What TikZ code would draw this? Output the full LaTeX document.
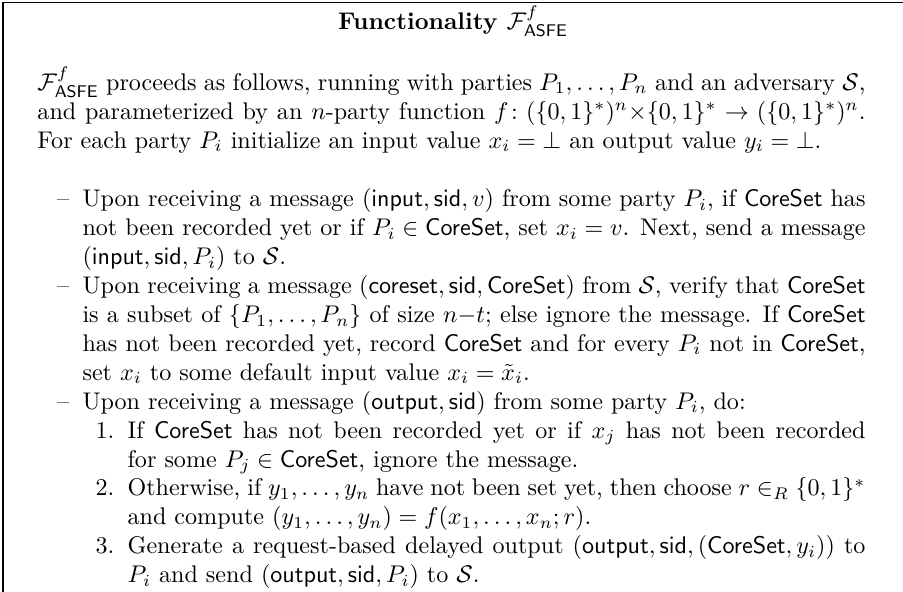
\documentclass[tikz,border=0pt]{standalone}
\usepackage{amsmath,amssymb}
\usepackage{enumitem}
\begin{document}
\begin{tikzpicture}[x=1pt,y=1pt]
\clip (0,0) rectangle (374.7,-245.6);
% frame: only the top and the left side show
\coordinate (corner) at (1.25,-1);
\coordinate (frameend) at (390,-1);
\coordinate (framefoot) at (1.25,-260);
\draw[line width=0.5pt] (framefoot) -- (corner) -- (frameend);
\node[inner sep=0, anchor=base, font=\bfseries] (title) at (188,-12.2) {Functionality $\mathcal{F}^{f}_{\mathsf{ASFE}}$};
\node[inner sep=0, anchor=base west, text width=343.6pt, align=justify] (intro) at (15.35,-37.5) {%
$\mathcal{F}^{f}_{\mathsf{ASFE}}$ proceeds as follows, running with parties $P_1,\ldots,P_n$ and an adversary $\mathcal{S}$,\linebreak
and parameterized by an $n$-party function $f\colon (\{0,1\}^*)^n{\times}\{0,1\}^* \to (\{0,1\}^*)^n$.\linebreak
For each party $P_i$ initialize an input value $x_i=\bot$ an output value $y_i=\bot$.};
\node[inner sep=0, anchor=base west, text width=343.6pt, align=justify] (rules) at (15.35,-73.8) {%
\begin{itemize}[label=\textendash, leftmargin=18.7pt, labelsep=5.5pt, topsep=0pt, partopsep=0pt, itemsep=0pt, parsep=0pt]
\item Upon receiving a message $(\mathsf{input},\mathsf{sid},v)$ from some party $P_i$, if $\mathsf{CoreSet}$ has\linebreak
not been recorded yet or if $P_i\in\mathsf{CoreSet}$, set $x_i=v$. Next, send a message\linebreak
$(\mathsf{input},\mathsf{sid},P_i)$ to $\mathcal{S}$.
\item Upon receiving a message $(\mathsf{coreset},\mathsf{sid},\mathsf{CoreSet})$ from $\mathcal{S}$, verify that $\mathsf{CoreSet}$\linebreak
is a subset of $\{P_1,\ldots,P_n\}$ of size $n{-}t$; else ignore the message. If $\mathsf{CoreSet}$\linebreak
has not been recorded yet, record $\mathsf{CoreSet}$ and for every $P_i$ not in $\mathsf{CoreSet}$,\linebreak
set $x_i$ to some default input value $x_i=\tilde{x}_i$.
\item Upon receiving a message $(\mathsf{output},\mathsf{sid})$ from some party $P_i$, do:
\begin{enumerate}[label=\arabic*., leftmargin=18.7pt, labelsep=5.5pt, topsep=0pt, partopsep=0pt, itemsep=0pt, parsep=0pt]
\item If $\mathsf{CoreSet}$ has not been recorded yet or if $x_j$ has not been recorded\linebreak
for some $P_j\in\mathsf{CoreSet}$, ignore the message.
\item Otherwise, if $y_1,\ldots,y_n$ have not been set yet, then choose $r\in_R\{0,1\}^*$\linebreak
and compute $(y_1,\ldots,y_n)=f(x_1,\ldots,x_n;r)$.
\item Generate a request-based delayed output $(\mathsf{output},\mathsf{sid},(\mathsf{CoreSet},y_i))$ to\linebreak
$P_i$ and send $(\mathsf{output},\mathsf{sid},P_i)$ to $\mathcal{S}$.
\end{enumerate}
\end{itemize}};
\end{tikzpicture}
\end{document}
